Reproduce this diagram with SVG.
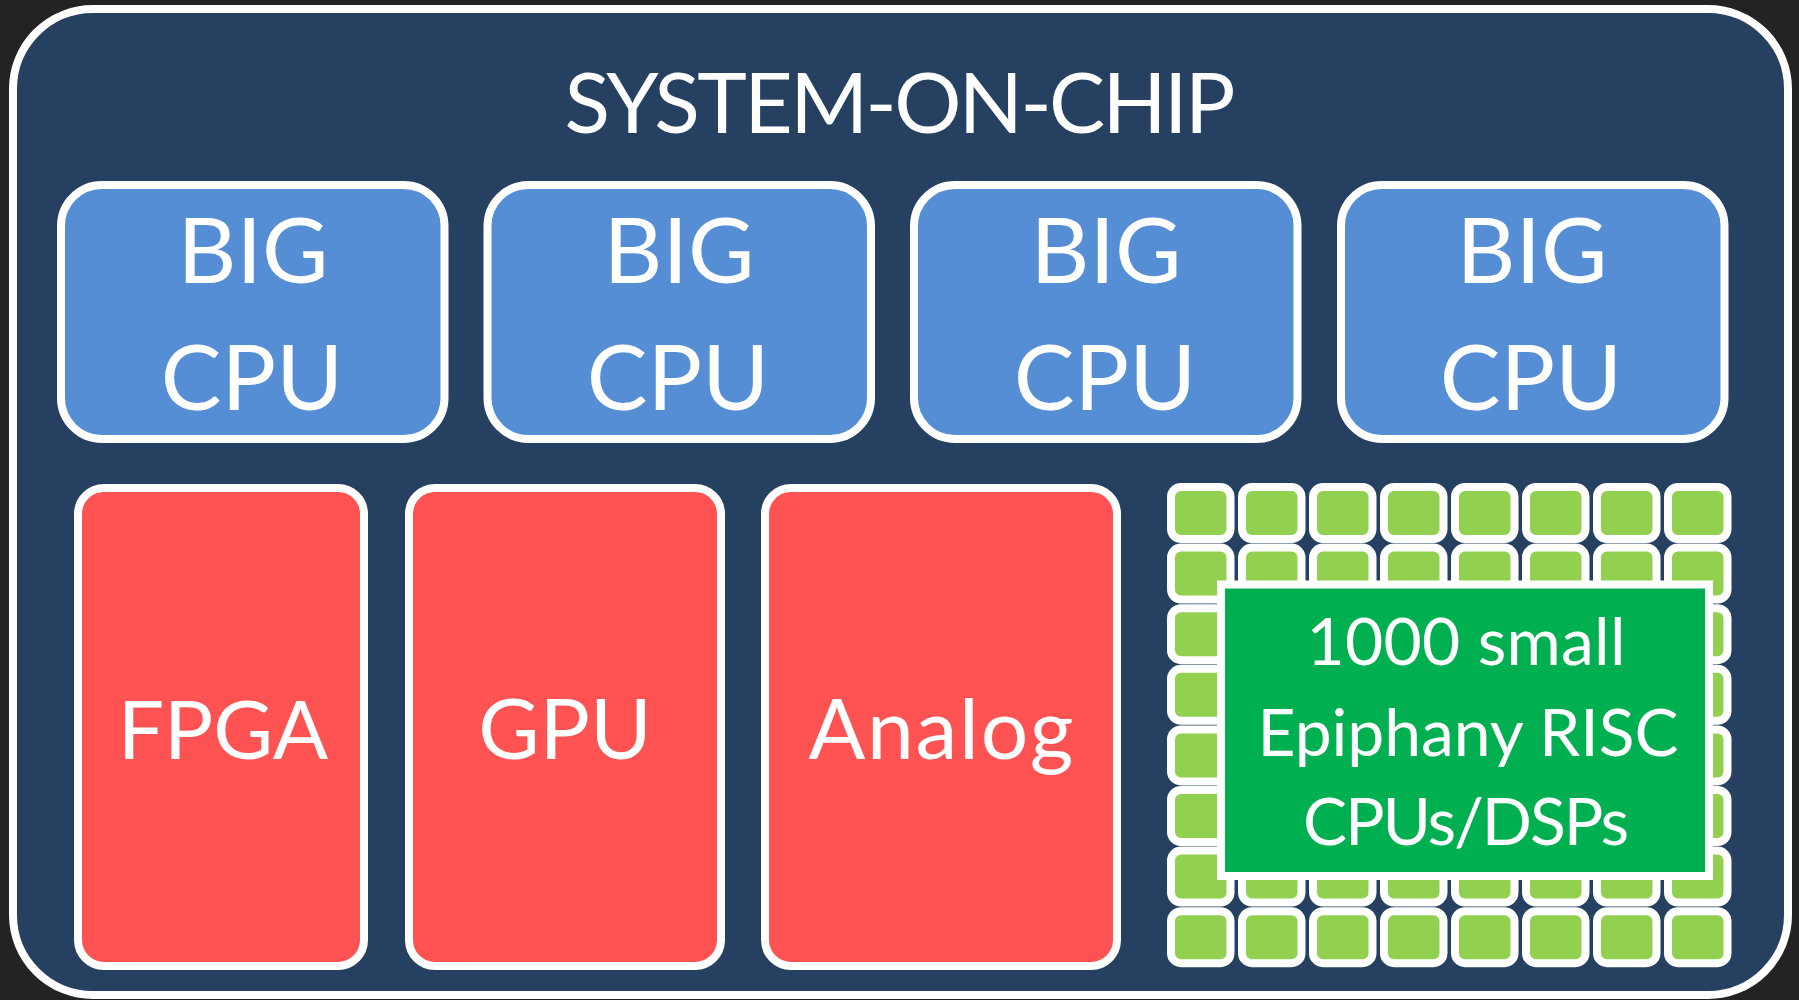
<svg xmlns="http://www.w3.org/2000/svg" width="1799" height="1000" viewBox="0 0 1799 1000">
  <style>
    .lbl { font-family: Lato, "Liberation Sans", sans-serif; fill: #ffffff; text-anchor: middle; }
    .cpu { fill: #558ED5; stroke: #ffffff; stroke-width: 8; }
    .blk { fill: #FF5252; stroke: #ffffff; stroke-width: 8; }
    .cell { fill: #92D050; stroke: #ffffff; stroke-width: 8; }
  </style>
  <defs>
    <rect id="c" x="0" y="0" width="59.5" height="52" rx="10" ry="10" class="cell"/>
    <g id="crow">
      <use href="#c" x="0"/>
      <use href="#c" x="71"/>
      <use href="#c" x="142"/>
      <use href="#c" x="213"/>
      <use href="#c" x="284"/>
      <use href="#c" x="355"/>
      <use href="#c" x="426"/>
      <use href="#c" x="497"/>
    </g>
  </defs>

  <rect x="0" y="0" width="1799" height="1000" fill="#232323"/>

  <!-- chip outline -->
  <g id="soc">
    <rect x="13" y="9" width="1775" height="986" rx="80" ry="80" fill="#264061" stroke="#ffffff" stroke-width="8"/>
    <text class="lbl" x="900" y="133" font-size="84" textLength="671">SYSTEM-ON-CHIP</text>
  </g>

  <!-- big cores -->
  <g id="cpu1">
    <rect class="cpu" x="61" y="185" width="383.5" height="254" rx="41"/>
    <text class="lbl" x="253" y="283" font-size="91">BIG</text>
    <text class="lbl" x="252" y="410" font-size="91">CPU</text>
  </g>
  <g id="cpu2">
    <rect class="cpu" x="487.5" y="185" width="383.5" height="254" rx="41"/>
    <text class="lbl" x="679" y="283" font-size="91">BIG</text>
    <text class="lbl" x="678" y="410" font-size="91">CPU</text>
  </g>
  <g id="cpu3">
    <rect class="cpu" x="914" y="185" width="383.5" height="254" rx="41"/>
    <text class="lbl" x="1106" y="283" font-size="91">BIG</text>
    <text class="lbl" x="1105" y="410" font-size="91">CPU</text>
  </g>
  <g id="cpu4">
    <rect class="cpu" x="1341" y="185" width="383.5" height="254" rx="41"/>
    <text class="lbl" x="1532" y="283" font-size="91">BIG</text>
    <text class="lbl" x="1531" y="410" font-size="91">CPU</text>
  </g>

  <!-- fixed-function blocks -->
  <g id="fpga">
    <rect class="blk" x="78" y="488" width="286" height="478" rx="26"/>
    <text class="lbl" x="223" y="759" font-size="82">FPGA</text>
  </g>
  <g id="gpu">
    <rect class="blk" x="409" y="488" width="312" height="478" rx="26"/>
    <text class="lbl" x="565" y="759" font-size="84">GPU</text>
  </g>
  <g id="analog">
    <rect class="blk" x="765" y="488" width="352" height="478" rx="26"/>
    <text class="lbl" x="941" y="759" font-size="84" textLength="265">Analog</text>
  </g>

  <!-- many-core array -->
  <g id="epiphany">
    <use href="#crow" x="1171" y="487"/>
    <use href="#crow" x="1171" y="547.6"/>
    <use href="#crow" x="1171" y="608.2"/>
    <use href="#crow" x="1171" y="668.8"/>
    <use href="#crow" x="1171" y="729.4"/>
    <use href="#crow" x="1171" y="790"/>
    <use href="#crow" x="1171" y="850.6"/>
    <use href="#crow" x="1171" y="911.2"/>
    <rect x="1221" y="584.5" width="488" height="291.5" fill="#00B050" stroke="#ffffff" stroke-width="8"/>
    <text class="lbl" x="1466" y="665" font-size="66" textLength="319">1000 small</text>
    <text class="lbl" x="1468" y="756" font-size="66" textLength="421">Epiphany RISC</text>
    <text class="lbl" x="1466" y="845" font-size="66" textLength="326">CPUs/DSPs</text>
  </g>

  <g id="connectors"/>
</svg>
